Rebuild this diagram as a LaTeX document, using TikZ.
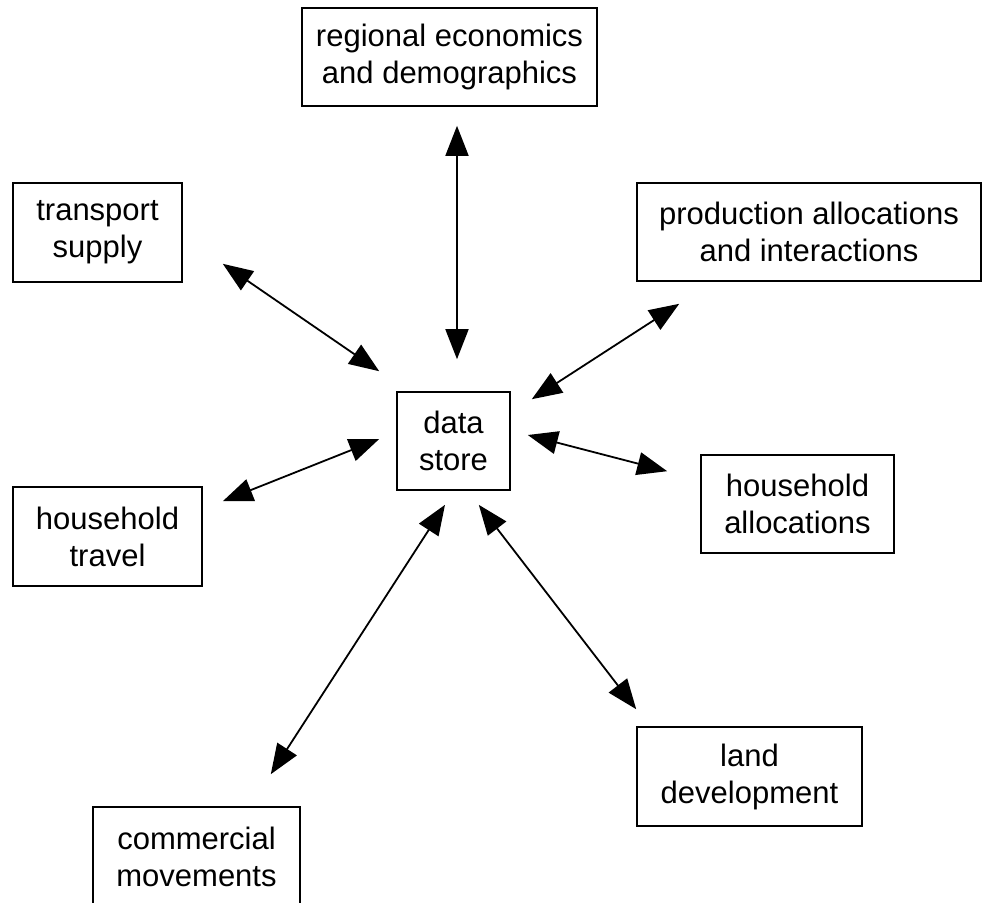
\documentclass[tikz,border=0pt]{standalone}
\usepackage{fontspec}
\setmainfont{Liberation Sans}
\usetikzlibrary{arrows.meta}

\begin{document}
\begin{tikzpicture}[x=0.5pt,y=-0.5pt,
    block/.style={draw,line width=0.8pt,align=center,inner sep=0pt,
      font=\fontsize{15.5}{18.5}\selectfont},
    link/.style={line width=0.9pt,
      {Triangle[length=15pt,width=11.5pt]}-{Triangle[length=15pt,width=11.5pt]}}]
    \useasboundingbox (0,0) rectangle (982,902);
    % the boxes
    \node[block,minimum width=147.5pt,minimum height=49pt] (reg) at (449.5,57) {regional economics\\and demographics};
    \node[block,minimum width=84.5pt,minimum height=49.5pt] (trans) at (97.5,232.5) {transport\\supply};
    \node[block,minimum width=172pt,minimum height=49pt] (prod) at (809,232) {production allocations\\and interactions};
    \node[block,minimum width=56.5pt,minimum height=49pt] (ds) at (453.5,441) {data\\store};
    \node[block,minimum width=96.5pt,minimum height=49pt] (hha) at (797.5,504) {household\\allocations};
    \node[block,minimum width=94.5pt,minimum height=49.5pt] (hht) at (107.5,536.5) {household\\travel};
    \node[block,minimum width=112.5pt,minimum height=49.5pt] (land) at (749.5,776.5) {land\\development};
    \node[block,minimum width=103.5pt,minimum height=49.5pt] (com) at (196.5,856.5) {commercial\\movements};
    % two-way links to the data store
    \draw[link] ([shift={(7.5,19)}]reg.south) -- ([shift={(3.5,-32)}]ds.north);
    \draw[link] ([shift={(40,-19)}]trans.south east) -- ([shift={(-17,-20)}]ds.north west);
    \draw[link] ([shift={(43,22)}]prod.south west) -- ([shift={(21,8)}]ds.north east);
    \draw[link] ([shift={(20,15)}]hht.north east) -- ([shift={(-17,-2)}]ds.west);
    \draw[link] ([shift={(-33,17)}]hha.north west) -- ([shift={(17,-6)}]ds.east);
    \draw[link] ([shift={(-30,-32)}]com.north east) -- ([shift={(-8.5,14)}]ds.south);
    \draw[link] ([shift={(0,-17)}]land.north west) -- ([shift={(-32,14)}]ds.south east);
\end{tikzpicture}
\end{document}
